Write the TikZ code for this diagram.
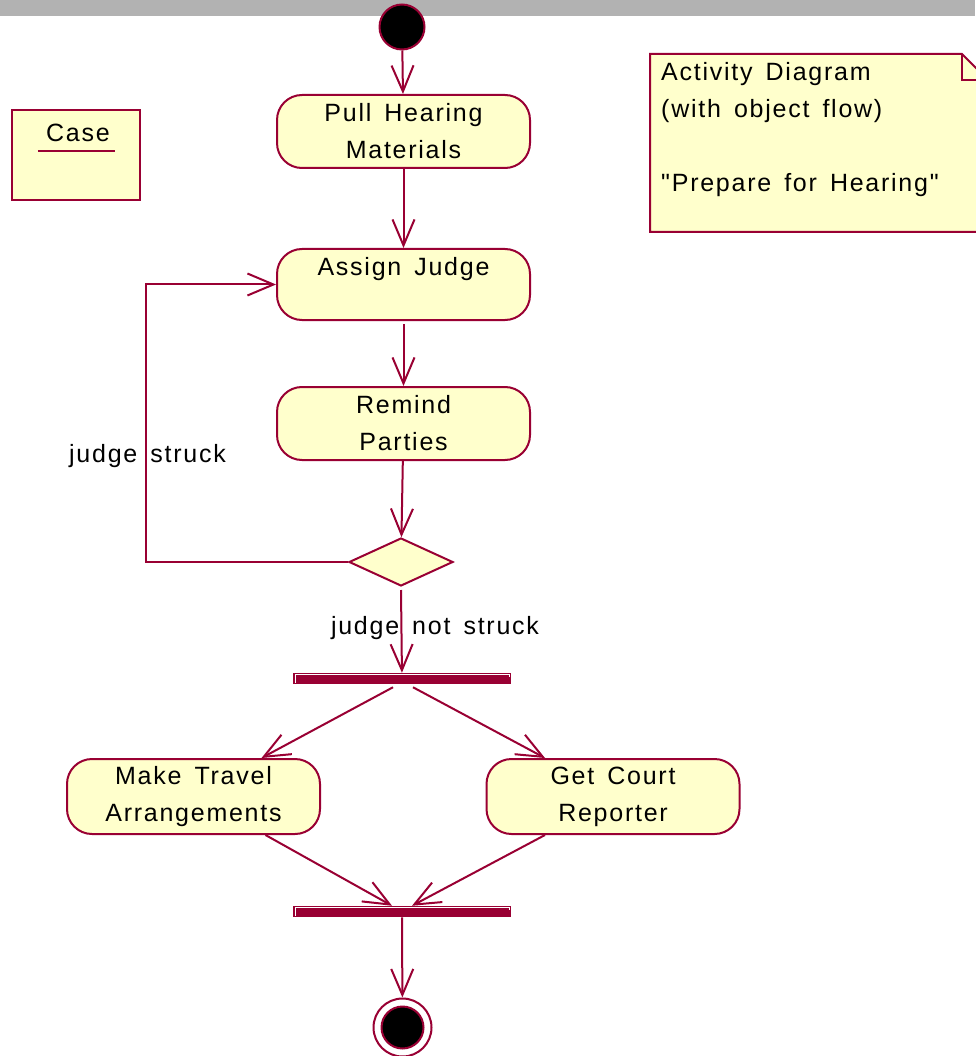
\documentclass[tikz,border=0pt]{standalone}
\usepackage{fontspec}
\setmainfont{Liberation Sans}[LetterSpace=7, WordSpace=1.5, Ligatures=TeXOff]
\usetikzlibrary{arrows.meta,shapes.geometric,calc}
\definecolor{maroon}{RGB}{153,0,51}
\definecolor{cream}{RGB}{255,255,204}
\definecolor{topgray}{RGB}{178,178,178}
\tikzset{
  act/.style={draw=maroon, fill=cream, line width=2pt, rounded corners=25pt,
    minimum width=253pt, minimum height=73pt, align=center, inner sep=0pt},
  flow/.style={draw=maroon, line width=2pt,
    -{Straight Barb[length=26pt,width=22pt,line width=2pt]}},
  bar/.style={draw=maroon, fill=maroon, line width=1pt, minimum width=217pt,
    minimum height=10.5pt, inner sep=0pt},
  lbl/.style={inner sep=0pt}
}
\begin{document}
\begin{tikzpicture}[x=1pt,y=-1pt,font=\fontsize{25}{37}\selectfont]
\useasboundingbox (0,0) rectangle (975,1056);
\fill[topgray] (0,0) rectangle (975,16);

% start
\node[circle, draw=maroon, fill=black, line width=2pt, minimum size=45pt, inner sep=0pt] (start) at (402,27) {};

% activities
\node[act] (pull) at (403.5,131.5) {Pull Hearing\\Materials};
\node[act, minimum height=71pt] (assign) at (403.5,284.5) {Assign Judge\\\mbox{}};
\node[act] (remind) at (403.5,423.5) {Remind\\Parties};
\node[diamond, draw=maroon, fill=cream, line width=2pt, minimum width=104pt, minimum height=48pt, inner sep=0pt] (dec) at (401,562) {};
\node[bar] (fork) at (402,678.5) {};
\node[act, minimum height=75pt] (travel) at (193.5,796.5) {Make Travel\\Arrangements};
\node[act, minimum height=75pt] (court) at (613,796.5) {Get Court\\Reporter};
\node[bar] (join) at (402,911.5) {};
\node[circle, draw=maroon, fill=white, line width=2pt, minimum size=58pt, inner sep=0pt] (final) at (402.5,1027.5) {};
\node[circle, draw=maroon, fill=black, line width=2pt, minimum size=42pt, inner sep=0pt] (finalin) at (final.center) {};

% highlights on bars
\foreach \b in {fork,join}{
  \draw[white, line width=0.6pt] ($(\b.south west)+(2,-1.5)$) -- ($(\b.north west)+(2,2)$) -- ($(\b.north east)+(-2,2)$) -- ++(0,2);
}

% case object
\node[draw=maroon, fill=cream, line width=2pt, minimum width=128pt, minimum height=90pt, inner sep=0pt] (casebox) at (76,155) {};
\node[lbl] (casetxt) at (78,133) {Case};
\draw[maroon, line width=2pt] ($(casetxt.base west)+(-8,9)$) -- ($(casetxt.base east)+(5,9)$);

% note
\draw[maroon, fill=cream, line width=2pt] (650,54) -- (962,54) -- (988,80) -- (988,232) -- (650,232) -- cycle;
\draw[maroon, line width=2pt] (962,54) -- (962,80) -- (988,80);
\node[lbl, anchor=north west, align=left] (notetext) at (661,62) {Activity Diagram\\(with object flow)\\[37pt]"Prepare for Hearing"};

% flows
\draw[flow] (start) -- (pull);
\draw[flow] (pull) -- (assign);
\draw[flow] ($(assign.south)+(0,3)$) -- (remind);
\draw[flow] (remind) -- (dec);
\coordinate (loop) at (146,562);
\draw[flow] (dec.west) -- (loop) |- (assign.west);
\draw[flow] ($(dec.south)+(0,3)$) -- (fork);
\draw[flow] ($(fork.south)+(-9,3)$) -- ($(travel.north)+(68,0)$);
\draw[flow] ($(fork.south)+(11,3)$) -- ($(court.north)+(-68,0)$);
\draw[flow] ($(travel.south)+(72,0)$) -- ($(join.north)+(-10,0)$);
\draw[flow] ($(court.south)+(-68,0)$) -- ($(join.north)+(10,0)$);
\draw[flow] (join) -- (final);

% labels
\node[lbl] (jstruck) at (147.5,456) {judge struck};
\node[lbl] (jnot) at (435,628) {judge not struck};
\end{tikzpicture}
\end{document}
